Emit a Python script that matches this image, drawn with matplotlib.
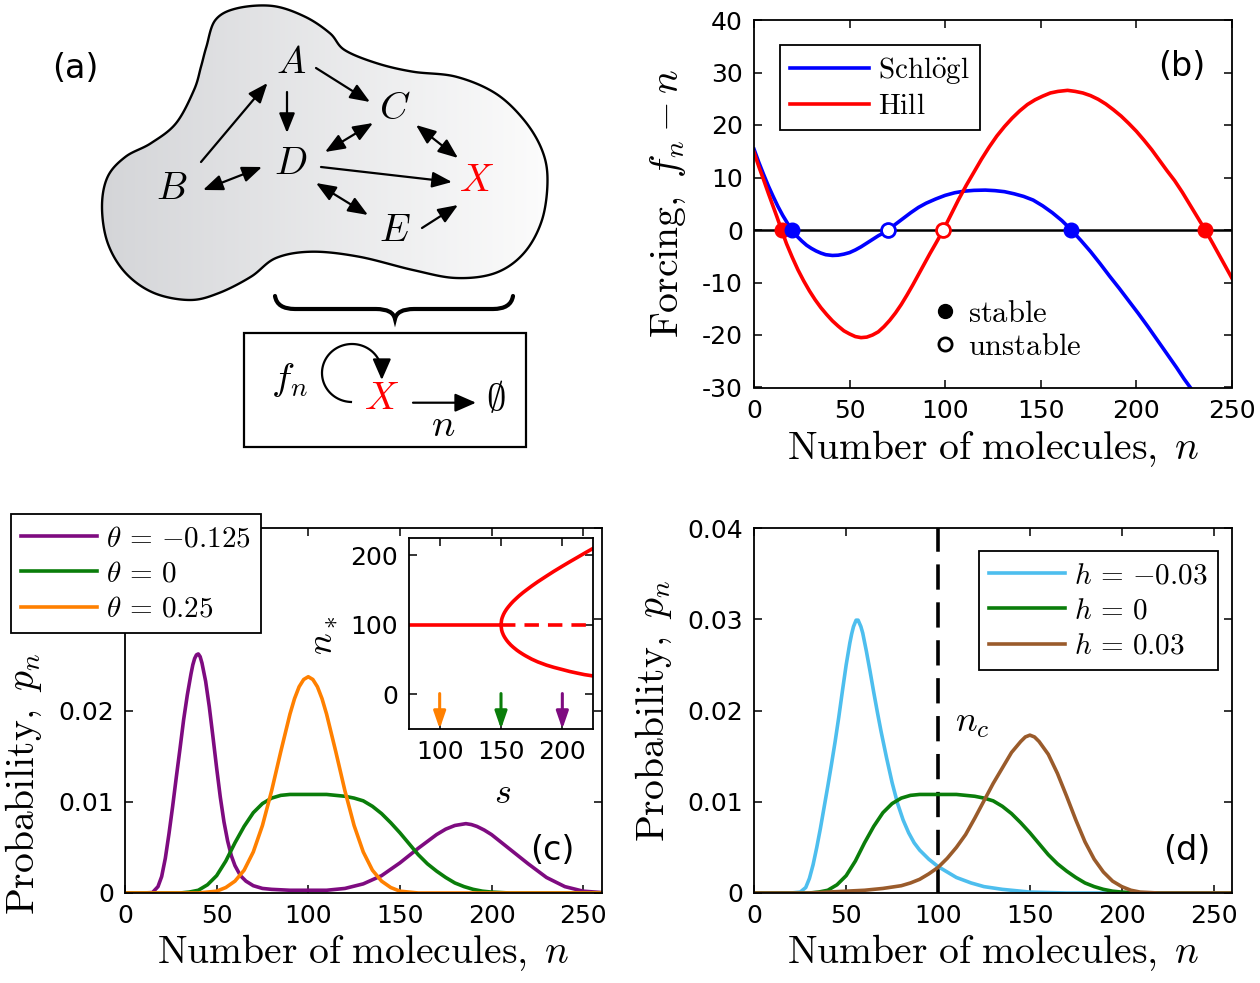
import numpy as np
import matplotlib
matplotlib.use('Agg')
import matplotlib.pyplot as plt
from matplotlib.patches import FancyArrowPatch, PathPatch, Rectangle
from matplotlib.path import Path
from matplotlib.lines import Line2D
from matplotlib.colors import LinearSegmentedColormap

plt.rcParams['font.family'] = ['DejaVu Sans']
plt.rcParams['mathtext.fontset'] = 'cm'

# ------------------------------------------------------------------ data
# panel (b): forcing f_n - n
schlogl_n = [0, 2.5, 5, 7.5, 10, 12.5, 15, 17.5, 20, 22.5, 25, 27.5, 30, 32.5, 35,
             37.5, 41, 44, 47, 50, 53, 56, 59, 62, 65, 68, 70.3, 74, 78, 82, 86, 90,
             95, 100, 105, 110, 115, 121, 126, 131, 136, 141, 146, 151, 156, 161,
             166, 171, 176, 181, 186, 191, 196, 201, 206, 211, 216, 221, 225, 228.2]
schlogl_f = [15.4, 12.9, 10.6, 8.4, 6.4, 4.5, 2.8, 1.3, 0, -1.2, -2.1, -2.9, -3.5,
             -4.0, -4.4, -4.7, -4.85, -4.8, -4.6, -4.3, -3.8, -3.2, -2.5, -1.8, -1.1,
             -0.5, 0, 1.1, 2.2, 3.3, 4.3, 5.1, 5.9, 6.6, 7.1, 7.4, 7.55, 7.6, 7.5,
             7.3, 6.9, 6.4, 5.7, 4.6, 3.3, 1.8, 0, -2.0, -4.1, -6.4, -8.8, -11.1,
             -13.5, -15.9, -18.4, -21.0, -23.6, -26.2, -28.4, -30]
hill_n = [0, 2.5, 5, 7.5, 10, 12, 14.4, 17, 20, 23, 26, 29, 32, 35, 38, 41, 44, 47,
          50, 53, 56, 59, 62, 65, 68, 71, 74, 77, 80, 83, 86, 89, 92, 95, 99, 103,
          107, 111, 115, 119, 123, 127, 131, 135, 139, 143, 147, 151, 155, 159, 164,
          168, 172, 176, 180, 184, 188, 192, 196, 200, 204, 208, 212, 216, 220, 224,
          228, 232, 236, 240, 245, 250]
hill_f = [14.8, 12.1, 9.6, 7.0, 4.5, 2.5, 0, -2.6, -5.2, -7.6, -9.7, -11.6, -13.3,
          -14.8, -16.1, -17.3, -18.3, -19.2, -19.8, -20.3, -20.5, -20.4, -20.0,
          -19.4, -18.4, -17.2, -15.8, -14.2, -12.4, -10.5, -8.5, -6.5, -4.5, -2.6,
          0, 2.9, 5.8, 8.5, 11.0, 13.5, 15.8, 17.9, 19.7, 21.3, 22.7, 23.9, 24.8,
          25.5, 26.1, 26.4, 26.6, 26.4, 26.1, 25.6, 24.9, 24.0, 22.9, 21.7, 20.3,
          18.8, 17.1, 15.3, 13.3, 11.3, 9.4, 7.2, 4.8, 2.4, 0, -2.6, -5.9, -9.2]
schlogl_stable = [20, 166]
schlogl_unstable = [70.3]
hill_stable = [14.4, 236]
hill_unstable = [99]
b_xticks = [0, 50, 100, 150, 200, 250]
b_yticks = [-30, -20, -10, 0, 10, 20, 30, 40]
b_yticklabels = ['-30', '-20', '-10', '0', '10', '20', '30', '40']

# panel (c): distributions for theta
purple_n = [0, 10, 15, 18, 20, 22, 24, 26, 28, 30, 32, 34, 36, 37, 38, 39, 40, 41,
            42, 44, 46, 48, 50, 52, 54, 56, 58, 60, 63, 66, 70, 75, 80, 90, 100, 110,
            120, 130, 140, 150, 160, 170, 175, 180, 183, 186, 189, 192, 196, 200, 205,
            210, 215, 220, 230, 240, 250, 260]
purple_p = [0, 0, 0.00005, 0.0007, 0.0018, 0.0038, 0.0065, 0.0095, 0.0127, 0.0158,
            0.0190, 0.0217, 0.0240, 0.0250, 0.0257, 0.0261, 0.0262, 0.0259, 0.0252,
            0.0232, 0.0204, 0.0171, 0.0137, 0.0105, 0.0078, 0.0057, 0.0041, 0.0030,
            0.0019, 0.0013, 0.0008, 0.0005, 0.0004, 0.0003, 0.0003, 0.0003, 0.0005,
            0.0010, 0.0019, 0.0033, 0.0049, 0.0064, 0.0070, 0.0074, 0.0075, 0.0076,
            0.0075, 0.0073, 0.0069, 0.0064, 0.0056, 0.0048, 0.0040, 0.0032, 0.0017,
            0.0007, 0.0002, 0.00005]
green_n = [0, 30, 35, 40, 45, 50, 55, 60, 65, 70, 75, 80, 85, 90, 100, 110, 115, 120,
           125, 130, 135, 140, 145, 150, 155, 160, 165, 170, 175, 180, 185, 190, 195,
           200, 210, 260]
green_p = [0, 0, 0.0001, 0.0003, 0.0009, 0.0019, 0.0035, 0.0055, 0.0073, 0.0088,
           0.0098, 0.0104, 0.0107, 0.0108, 0.0108, 0.0108, 0.0107, 0.0106, 0.0104,
           0.0101, 0.0095, 0.0087, 0.0077, 0.0066, 0.0054, 0.0042, 0.0032, 0.0024,
           0.0017, 0.0011, 0.0007, 0.0004, 0.0002, 0.0001, 0, 0]
orange_n = [0, 40, 50, 55, 60, 65, 70, 75, 80, 85, 90, 92.5, 95, 97.5, 100, 102.5,
            105, 107.5, 110, 115, 120, 125, 130, 135, 140, 145, 150, 160, 260]
orange_p = [0, 0, 0.0002, 0.0006, 0.0013, 0.0025, 0.0045, 0.0074, 0.0112, 0.0155,
            0.0196, 0.0213, 0.0226, 0.0234, 0.0237, 0.0234, 0.0226, 0.0213, 0.0196,
            0.0155, 0.0112, 0.0074, 0.0045, 0.0025, 0.0013, 0.0006, 0.0002, 0, 0]
c_labels = [r'$\theta\,=\,{-0.125}$', r'$\theta\,=\,0$', r'$\theta\,=\,0.25$']

# inset of (c): bifurcation diagram n_* vs s
s_stable_flat = [75, 150]
n_stable_flat = [100, 100]
s_unstable = [150, 225]
n_unstable = [100, 100]
s_upper = [150, 150.5, 151, 152, 153, 154.5, 156, 158, 160, 163, 165, 168, 170,
           175, 180, 187, 193, 200, 206, 212, 218, 225]
n_upper = [100, 107.4, 110.4, 114.8, 118.2, 122.4, 125.9, 130.1, 133.9, 138.9,
           142.1, 146.5, 149.2, 155.8, 162, 170.1, 176.9, 184.4, 190.7, 196.8, 203,
           210]
s_lower = [150, 150.5, 151, 152, 153, 154.5, 156, 158, 160, 163, 165, 168, 170,
           175, 180, 187, 193, 200, 206, 212, 218, 225]
n_lower = [100, 92.6, 89.5, 85.2, 82, 78, 74.7, 70.9, 67.7, 63.4, 60.9, 57.5, 55.4,
           50.6, 46.6, 42, 38.8, 35.6, 32.8, 30.5, 28.3, 26.4]
s_markers = [100, 150, 200]

# panel (d): distributions for h
blue_n = [0, 20, 25, 28, 30, 32, 34, 36, 38, 40, 42, 44, 46, 48, 50, 52, 53, 54,
          55.4, 56.5, 58, 59, 61, 63, 65, 67, 69, 72, 75, 78, 81, 84, 87, 90, 95,
          100, 105, 110, 118, 125, 135, 150, 170, 260]
blue_p = [0, 0, 0.0001, 0.0006, 0.0016, 0.0031, 0.0050, 0.0071, 0.0094, 0.0117,
          0.0141, 0.0166, 0.0193, 0.0222, 0.0250, 0.0274, 0.0284, 0.0292, 0.0299,
          0.0299, 0.0292, 0.0285, 0.0265, 0.0243, 0.0220, 0.0198, 0.0177, 0.0148,
          0.0121, 0.0098, 0.0080, 0.0066, 0.0055, 0.0047, 0.0037, 0.0029, 0.0023,
          0.0017, 0.0011, 0.0007, 0.0004, 0.0001, 0, 0]
brown_n = [0, 30, 40, 50, 60, 70, 80, 85, 90, 95, 100, 105, 110, 115, 120, 125, 130,
           135, 140, 145, 147.5, 150, 152.5, 155, 160, 165, 170, 175, 180, 185, 190,
           195, 200, 205, 210, 220, 260]
brown_p = [0, 0, 0.0001, 0.0002, 0.0003, 0.0005, 0.0008, 0.0011, 0.0015, 0.0021,
           0.0028, 0.0038, 0.0050, 0.0064, 0.0082, 0.0101, 0.0120, 0.0137, 0.0154,
           0.0166, 0.0171, 0.0173, 0.0171, 0.0166, 0.0152, 0.0131, 0.0106, 0.0080,
           0.0056, 0.0037, 0.0023, 0.0013, 0.0007, 0.0003, 0.0001, 0, 0]
n_critical = 100
d_labels = [r'$h\,=\,{-0.03}$', r'$h\,=\,0$', r'$h\,=\,0.03$']

p_ticks = [0, 0.01, 0.02, 0.03, 0.04]
p_ticklabels = ['0', '0.01', '0.02', '0.03', '0.04']
n_ticks = [0, 50, 100, 150, 200, 250]

# colours
C_BLUE, C_RED = '#0000ff', '#ff0000'
C_PURPLE, C_GREEN, C_ORANGE = '#7e0b80', '#0a7d0a', '#ff8000'
C_LBLUE, C_BROWN = '#4dbeee', '#9a5b2b'

# ------------------------------------------------------------------ figure
W, H = 1260, 983
fig = plt.figure(figsize=(W / 100, H / 100), dpi=100)


def rect(l, t, r, b):
    return [l / W, 1 - b / H, (r - l) / W, (b - t) / H]


def fig_pt(x, y):
    return (x / W, 1 - y / H)


TICK = 18
LAB = 28.5
LEG = 21
LW = 2.6
PANEL = 24


def style(ax):
    ax.tick_params(direction='in', length=6, width=1.1, top=True, right=True,
                   labelsize=TICK, pad=8)
    for s in ax.spines.values():
        s.set_linewidth(1.3)


xlab = r'$\mathrm{Number\ of\ molecules,}\;n$'

# ---------------- panel (b)
axb = fig.add_axes(rect(754, 20, 1232, 387.5))
style(axb)
axb.axhline(0, color='k', lw=1.8, zorder=1.5)
axb.plot(schlogl_n, schlogl_f, color=C_BLUE, lw=LW, label=r'$\mathrm{Schl\ddot{o}gl}$')
axb.plot(hill_n, hill_f, color=C_RED, lw=LW, label=r'$\mathrm{Hill}$')
axb.plot(hill_stable, [0] * len(hill_stable), 'o', color=C_RED, ms=10.5, zorder=4)
axb.plot(schlogl_stable, [0] * len(schlogl_stable), 'o', color=C_BLUE, ms=10.5, zorder=4)
axb.plot(schlogl_unstable, [0] * len(schlogl_unstable), 'o', mfc='white', mec=C_BLUE,
         mew=2, ms=10, zorder=4)
axb.plot(hill_unstable, [0] * len(hill_unstable), 'o', mfc='white', mec=C_RED,
         mew=2, ms=10, zorder=4)
axb.set_xlim(0, 250)
axb.set_ylim(-30, 40)
axb.set_xticks(b_xticks)
axb.set_yticks(b_yticks)
axb.set_yticklabels(b_yticklabels)
axb.set_xlabel(xlab, fontsize=LAB, va='center')
axb.xaxis.set_label_coords(0.5, -0.165)
axb.set_ylabel(r'$\mathrm{Forcing,}\ f_n - n$', fontsize=LAB, va='center')
axb.yaxis.set_label_coords(-0.18, 0.5)
legb = axb.legend(loc='upper left', bbox_to_anchor=fig_pt(780, 45),
                  bbox_transform=fig.transFigure, fontsize=LEG, frameon=True,
                  fancybox=False, edgecolor='k', framealpha=1, borderaxespad=0,
                  handlelength=2.7, handletextpad=0.3, borderpad=0.35,
                  labelspacing=0.2)
legb.get_frame().set_linewidth(1.3)
axb.add_artist(legb)
stab_handles = [Line2D([], [], ls='none', marker='o', color='k', ms=10),
                Line2D([], [], ls='none', marker='o', mfc='white', mec='k', mew=2,
                       ms=9.5)]
axb.legend(stab_handles, [r'$\mathrm{stable}$', r'$\mathrm{unstable}$'],
           loc='upper left', bbox_to_anchor=fig_pt(934, 299),
           bbox_transform=fig.transFigure, fontsize=22, frameon=False,
           borderaxespad=0, borderpad=0, handlelength=0.7, handletextpad=0.4,
           labelspacing=0.12)
axb.text(1182, H - 67, '(b)', transform=None, fontsize=PANEL, ha='center',
         va='center')

# ---------------- panel (c)
axc = fig.add_axes(rect(125, 528, 601.5, 893))
style(axc)
axc.plot(purple_n, purple_p, color=C_PURPLE, lw=LW, label=c_labels[0])
axc.plot(green_n, green_p, color=C_GREEN, lw=LW, label=c_labels[1])
axc.plot(orange_n, orange_p, color=C_ORANGE, lw=LW, label=c_labels[2])
axc.set_xlim(0, 260)
axc.set_ylim(0, 0.04)
axc.set_xticks(n_ticks)
axc.set_yticks(p_ticks)
# the two upper labels sit under the legend box in the original
axc.set_yticklabels(p_ticklabels[:3] + ['', ''])
axc.set_xlabel(xlab, fontsize=LAB, va='center')
axc.xaxis.set_label_coords(0.5, -0.164)
axc.set_ylabel(r'$\mathrm{Probability,}\ p_n$', fontsize=LAB, va='center')
axc.yaxis.set_label_coords(-0.212, 0.30)
legc = axc.legend(loc='upper left', bbox_to_anchor=fig_pt(11, 514),
                  bbox_transform=fig.transFigure, fontsize=LEG, frameon=True,
                  fancybox=False, edgecolor='k', framealpha=1, borderaxespad=0,
                  handlelength=2.6, handletextpad=0.3, borderpad=0.35,
                  labelspacing=0.25)
legc.get_frame().set_linewidth(1.3)
legc.set_zorder(10)
axc.text(552, H - 850, '(c)', transform=None, fontsize=PANEL, ha='center',
         va='center')

# inset
axi = fig.add_axes(rect(409, 538, 593, 729))
style(axi)
axi.plot(s_stable_flat, n_stable_flat, color=C_RED, lw=LW, solid_capstyle='butt')
axi.plot(s_unstable, n_unstable, color=C_RED, lw=LW, ls=(0, (4, 2.5)))
axi.plot(s_upper, n_upper, color=C_RED, lw=LW)
axi.plot(s_lower, n_lower, color=C_RED, lw=LW)
for s, col in zip(s_markers, [C_ORANGE, C_GREEN, C_PURPLE]):
    axi.annotate('', xy=(s, -50), xytext=(s, 1),
                 arrowprops=dict(arrowstyle='-|>,head_length=0.75,head_width=0.26',
                                 color=col, lw=2.2, mutation_scale=14,
                                 shrinkA=0, shrinkB=0))
axi.set_xlim(75, 225)
axi.set_ylim(-50, 225)
axi.set_xticks([100, 150, 200])
axi.set_yticks([0, 100, 200])
axi.set_xlabel(r'$s$', fontsize=26, va='center')
axi.xaxis.set_label_coords(0.51, -0.335)
axi.set_ylabel(r'$n_*$', fontsize=26, va='center')
axi.yaxis.set_label_coords(-0.47, 0.49)

# ---------------- panel (d)
axd = fig.add_axes(rect(754.3, 528, 1232, 893))
style(axd)
axd.plot(blue_n, blue_p, color=C_LBLUE, lw=LW, label=d_labels[0])
axd.plot(green_n, green_p, color=C_GREEN, lw=LW, label=d_labels[1])
axd.plot(brown_n, brown_p, color=C_BROWN, lw=LW, label=d_labels[2])
axd.axvline(n_critical, color='k', lw=2.6, ls=(0, (7, 3.5)), zorder=1.5)
axd.set_xlim(0, 260)
axd.set_ylim(0, 0.04)
axd.set_xticks(n_ticks)
axd.set_yticks(p_ticks)
axd.set_yticklabels(p_ticklabels)
axd.set_xlabel(xlab, fontsize=LAB, va='center')
axd.xaxis.set_label_coords(0.5, -0.164)
axd.set_ylabel(r'$\mathrm{Probability,}\ p_n$', fontsize=LAB, va='center')
axd.yaxis.set_label_coords(-0.21, 0.5)
legd = axd.legend(loc='upper left', bbox_to_anchor=fig_pt(979, 551),
                  bbox_transform=fig.transFigure, fontsize=LEG, frameon=True,
                  fancybox=False, edgecolor='k', framealpha=1, borderaxespad=0,
                  handlelength=2.6, handletextpad=0.3, borderpad=0.35,
                  labelspacing=0.25)
legd.get_frame().set_linewidth(1.3)
axd.text(972, H - 723, r'$n_c$', transform=None, fontsize=26, ha='center',
         va='center')
axd.text(1187, H - 850, '(d)', transform=None, fontsize=PANEL, ha='center',
         va='center')

# ---------------- panel (a): schematic
axa = fig.add_axes(rect(0, 0, 620, 470))
axa.set_axis_off()

blob_pts = np.array([
    (206.4, 46.7), (215.4, 20), (237, 8.3), (272.8, 6), (305, 16.7), (330, 33.3),
    (344.6, 50), (377, 63.3), (412.9, 71.7), (456, 76.7), (495.4, 93.3), (524, 120),
    (542, 150), (547.5, 180), (542, 220), (524, 253), (495.4, 273), (456, 278),
    (412.9, 270), (359, 256.7), (312, 251.7), (276, 258), (251, 276.7), (219, 293),
    (190, 300), (154, 293), (125.6, 273), (107.7, 243), (102, 206.7), (107.7, 176.7),
    (125.6, 156.7), (150.8, 143.3), (176, 123.3), (194, 90), (201, 66.7)])


def closed_spline(P, k=16):
    out = []
    N = len(P)
    t = np.linspace(0, 1, k, endpoint=False)[:, None]
    for i in range(N):
        p0, p1, p2, p3 = P[i - 1], P[i], P[(i + 1) % N], P[(i + 2) % N]
        out.append(0.5 * (2 * p1 + (-p0 + p2) * t + (2 * p0 - 5 * p1 + 4 * p2 - p3) * t ** 2
                          + (-p0 + 3 * p1 - 3 * p2 + p3) * t ** 3))
    out = np.vstack(out)
    return np.vstack([out, out[:1]])


outline = closed_spline(blob_pts)
blob_path = Path(outline, closed=True)
blob_patch = PathPatch(blob_path, facecolor='none', edgecolor='k', lw=1.7, zorder=3)
axa.add_patch(blob_patch)
grad_cmap = LinearSegmentedColormap.from_list('g', ['#d4d5d8', '#fcfcfc'])
im = axa.imshow(np.linspace(0, 1, 256)[None, :], cmap=grad_cmap, aspect='auto',
                extent=(100, 550, 305, 0), zorder=1)
im.set_clip_path(blob_patch)
axa.set_xlim(0, 620)
axa.set_ylim(470, 0)

node_names = ['A', 'B', 'C', 'D', 'E', 'X']
node_x = [291, 172, 395, 291, 395, 477]
node_y = [62, 188, 108, 163, 230, 180]
for nm, x, y in zip(node_names, node_x, node_y):
    axa.text(x, y, '$%s$' % nm, fontsize=28, ha='center', va='center',
             color=C_RED if nm == 'X' else 'k', zorder=5)

arrows = [((201, 162), (267.5, 83), '-|>'),
          ((287, 92), (287, 133), '-|>'),
          ((316, 68), (370, 102), '-|>'),
          ((373, 123), (325, 152), '<|-|>'),
          ((203, 190), (262, 167), '<|-|>'),
          ((321, 167), (452, 182), '-|>'),
          ((416, 125), (458, 158), '<|-|>'),
          ((316, 183), (368, 215), '<|-|>'),
          ((422, 228), (458, 205), '-|>')]
for a, b, st in arrows:
    axa.add_patch(FancyArrowPatch(a, b, arrowstyle=st + ',head_length=0.75,head_width=0.3',
                                  mutation_scale=16, lw=1.6, color='k',
                                  shrinkA=0, shrinkB=0, zorder=4))

# brace
brace_verts = [(275, 296), (277, 309), (295, 309), (376, 309), (393, 309), (395, 319),
               (397, 309), (414, 309), (493, 309), (511, 309), (513, 296)]
brace_codes = [Path.MOVETO, Path.CURVE3, Path.CURVE3, Path.LINETO, Path.CURVE3,
               Path.CURVE3, Path.CURVE3, Path.CURVE3, Path.LINETO, Path.CURVE3,
               Path.CURVE3]
axa.add_patch(PathPatch(Path(brace_verts, brace_codes), facecolor='none',
                        edgecolor='k', lw=3, capstyle='round'))

# reduced model box
axa.add_patch(Rectangle((244, 333), 282, 114, facecolor='white', edgecolor='k',
                        lw=1.6))
axa.text(289, 380, r'$f_n$', fontsize=28, ha='center', va='center')
th = np.linspace(np.deg2rad(268), np.deg2rad(8), 80)
axa.plot(352 + 30 * np.cos(th), 373 - 29 * np.sin(th), color='k', lw=1.6)
axa.add_patch(FancyArrowPatch((381.8, 367), (381.8, 380),
                              arrowstyle='-|>,head_length=0.8,head_width=0.35',
                              mutation_scale=16, lw=1.6, color='k', shrinkA=0,
                              shrinkB=0))
axa.text(382, 398, r'$X$', fontsize=28, ha='center', va='center', color=C_RED)
axa.add_patch(FancyArrowPatch((413, 402.7), (476, 402.7),
                              arrowstyle='-|>,head_length=0.8,head_width=0.35',
                              mutation_scale=16, lw=1.6, color='k', shrinkA=0,
                              shrinkB=0))
axa.text(443, 425, r'$n$', fontsize=28, ha='center', va='center')
axa.text(496, 399, r'$\emptyset$', fontsize=28, ha='center', va='center')
axa.text(75, 68, '(a)', fontsize=24, ha='center', va='center')

fig.savefig('out.png', dpi=100)
